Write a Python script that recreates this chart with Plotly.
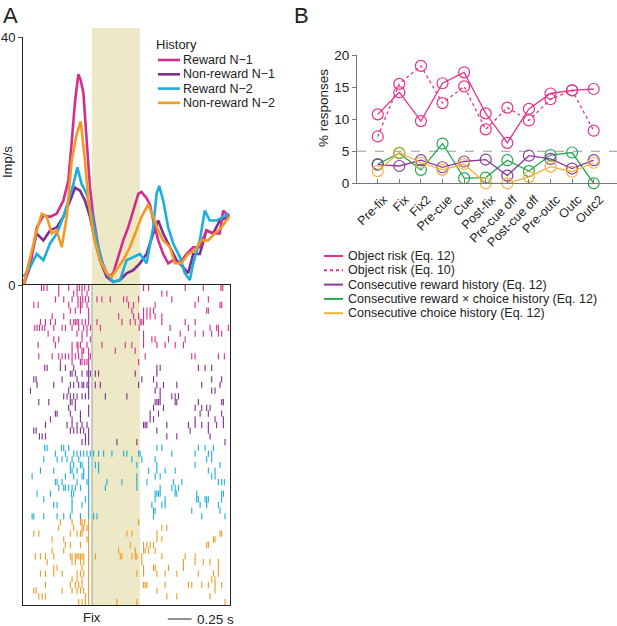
import plotly.graph_objects as go

W, H = 617, 626
FONT = 'Arial, Liberation Sans, sans-serif'

# ---------------- panel A: population activity (imp/s) around fixation ----------------
hist_names = ['Reward N\u22121', 'Non-reward N\u22121', 'Reward N\u22122', 'Non-reward N\u22122']
hist_colors = ['#D42E8D', '#7D2E8F', '#1CAEDC', '#F39A22']

t_rew1 = [-0.715, -0.646, -0.576, -0.507, -0.438, -0.368, -0.299, -0.247, -0.212, -0.177,
          -0.142, -0.118, -0.090, -0.056, -0.021, 0.014, 0.066, 0.118, 0.170, 0.222,
          0.274, 0.326, 0.378, 0.431, 0.483, 0.517, 0.569, 0.604, 0.639, 0.691,
          0.743, 0.795, 0.847, 0.917, 0.986, 1.056, 1.125, 1.194, 1.264, 1.333, 1.368, 1.431]
rate_rew1 = [0, 2.9, 9.3, 11.2, 11, 11.5, 13.6, 16.8, 23, 29.6,
             34, 33, 31, 24, 15.7, 11, 6.1, 2.9, 1.3, 1.9,
             4.5, 7.2, 9.3, 12, 14.7, 15, 14, 13, 10.4, 7.2,
             5, 3.5, 4, 3.5, 5, 6.1, 6.1, 8.8, 8.3, 8.3, 12, 11]

t_nonrew1 = [-0.715, -0.646, -0.576, -0.507, -0.438, -0.368, -0.299, -0.229, -0.177, -0.125,
             -0.073, -0.021, 0.031, 0.083, 0.153, 0.222, 0.292, 0.361, 0.431, 0.5,
             0.569, 0.639, 0.691, 0.743, 0.813, 0.882, 0.951, 1.003, 1.056, 1.125,
             1.194, 1.264, 1.333, 1.431]
rate_nonrew1 = [0, 4, 8.3, 7.2, 8.8, 9.3, 11, 13.6, 15.7, 15.2,
                13.6, 11, 7.2, 4, 1.3, 0.5, 0.8, 1.9, 2.4, 3.5,
                5, 8.3, 10.4, 8.3, 6.1, 4, 2.9, 1.9, 5, 5,
                8.8, 8.3, 10.4, 11]

t_rew2 = [-0.715, -0.646, -0.576, -0.507, -0.438, -0.368, -0.299, -0.247, -0.194, -0.153,
          -0.108, -0.056, -0.003, 0.049, 0.101, 0.153, 0.222, 0.292, 0.361, 0.431,
          0.5, 0.569, 0.639, 0.674, 0.701, 0.743, 0.795, 0.847, 0.917, 0.969,
          1.021, 1.056, 1.125, 1.177, 1.229, 1.299, 1.368, 1.431]
rate_rew2 = [1.3, 2.9, 5, 4, 6.7, 8.3, 11, 13.6, 16.3, 19,
             16.3, 14.7, 11.5, 7.2, 4, 1.9, 0.5, 0.8, 4, 4.5,
             5, 3.5, 9.3, 14.7, 16, 13.6, 9.3, 6.7, 4.5, 1.9,
             0.8, 3.5, 7.2, 12, 10.4, 10.4, 11, 11.5]

t_nonrew2 = [-0.715, -0.646, -0.576, -0.524, -0.472, -0.420, -0.368, -0.316, -0.264, -0.212,
             -0.160, -0.118, -0.073, -0.038, 0.014, 0.083, 0.153, 0.205, 0.257, 0.326,
             0.396, 0.465, 0.517, 0.587, 0.639, 0.691, 0.743, 0.813, 0.865, 0.934,
             1.003, 1.073, 1.142, 1.212, 1.281, 1.351, 1.431]
rate_nonrew2 = [0, 4.5, 8.8, 11.5, 11, 8.3, 8.8, 6.1, 11, 20,
                24.3, 26.4, 20, 13.6, 8.3, 4, 1.9, 1.3, 2.4, 4,
                6.1, 8.8, 11, 13, 11, 8.8, 7.2, 6.1, 3.5, 3.5,
                5, 5.6, 7.2, 7.2, 8.3, 9.3, 11]

# raster: spike times (ms from fixation), one list per trial
spikes_rew1 = [
    [-527, -503, -468, -347, -243, -156, -132, -104, -76, -35, 538, 590, 972, 1162, 1346, 1364],
    [-347, -191, -156, -104, -52, 729, 781],
    [-382, -295, -208, -146, -121, -97, -69, -35, 52, 104, 191, 330, 364, 486, 833, 1110, 1214],
    [-607, -562, -243, -146, -121, -104, -52, 382, 434, 659, 1076, 1336, 1353],
    [-226, -174, -121, -35, 416, 538, 573, 607, 642, 1197, 1214],
    [-416, -295, -35, 278, 434, 486, 538, 573, 607, 659, 729],
    [-538, -486, -434, -382, -226, -191, -174, -156, -139, -104, -69, -35, 52, 312, 399, 451,
     503, 520, 538, 729, 972, 1076],
    [-597, -573, -548, -520, -493, -399, -312, -278, -208, -139, -87, -52, -17, 87, 493, 815,
     1006, 1232, 1301, 1319, 1423],
    [-458, -156, -104, -52, 538, 920, 1076, 1162, 1249, 1319, 1353],
    [-399, -347, -104, -17, 538, 625, 659, 798, 972],
    [-562, -382, -208, -156, -146, -121, -52, 104, 347, 416, 538, 677, 763, 868, 954],
    [-208, -146, -104, -87, -35, 243, 451],
    [-555, -416, -347, -312, -278, -243, -208, -174, -139, -104, -35, -17, 555, 1041, 1076, 1319, 1381],
    [-330, -208, -121, -104, -76, -52, -35, 486],
]
spikes_nonrew1 = [
    [-493, -468, -330, -278, -191, -35, 677, 711, 1110, 1180, 1249],
    [-226, -208, -174, -104, -52, -35, -17, 35, 69, 451, 677],
    [-607, -583, -312, -156, -35, 520, 642, 1249, 1353],
    [-573, -399, -226, -191, -139, -104, -87, -52, -35, 35, 87, 486, 677, 746, 885, 1145, 1336],
    [-642, -243, -35, 659, 711, 1249, 1284],
    [-295, -260, -226, -191, -156, -104, -69, -35, 139, 364, 711, 833, 868, 902],
    [-555, -451, -226, -208, -174, 659, 677, 694, 711, 868, 885, 1110, 1353, 1371],
    [-243, -174, -35, 642, 746, 1076, 1145, 1197, 1232],
    [-382, -364, -226, -121, -35, 607, 694, 1128, 1214, 1353],
    [-434, -208, -121, 607, 642, 1076, 1284, 1371],
    [-486, -260, -208, -156, -104, -52, 538, 555, 573, 781, 1006, 1076, 1145, 1214, 1301, 1371],
    [-607, -583, -226, -191, -156, -121, -87, -35, 677, 1024, 1214],
    [-548, -520, -486, -69, -35, 781, 885, 1232],
    [-104, -69, -35, 260, 468, 1388],
]
spikes_rew2 = [
    [-493, -468, -319, -295, -243, 677, 729, 1110, 1180, 1267],
    [-382, -278, -191, -156, -121, -87, -52, -17, 17, 69, 121, 208, 330, 364, 486, 503, 833,
     1076, 1214, 1249],
    [-503, -364, -312, -260, -208, -139, -35, 416, 520, 659, 1197, 1249],
    [-226, -191, -121, -104, -35, 35, 69, 468, 677, 1076, 1336],
    [-538, -399, -226, -208, -156, -87, -35, 69, 590, 677, 763, 868, 1214, 1284],
    [-625, -278, -191, -104, -87, -35, 468, 659, 711, 1249, 1284],
    [-382, -364, -312, -156, -52, -35, 156, 312, 468, 573, 850, 937, 1319, 1353, 1381],
    [-347, -295, -278, -243, -208, -174, -121, -35, 139, 468, 711, 833, 868, 902],
    [-573, -434, -215, -191, -35, 659, 677, 694, 711, 868, 885, 1093, 1353, 1371],
    [-503, -208, -69, -35, 659, 763, 1093, 1110, 1180, 1197, 1214, 1353],
    [-399, -364, -208, -104, -35, 625, 729, 763, 1128, 1197, 1319],
    [-208, -35, 642, 659, 1041, 1336],
    [-625, -607, -503, -364, -295, -226, -121, -35, 17, 52, 642, 1145, 1388],
]
spikes_nonrew2 = [
    [-330, -208, -121, -104, -76, -35, 486],
    [-347, -191, -104, -87, -52, -35, 729, 781],
    [-607, -555, -226, -156, -121, -104, -35, 364, 416, 677, 1336, 1353],
    [-416, -295, -52, -35, 677, 729, 1267, 1284],
    [-278, -226, -121, -35, 399, 538, 573, 607, 642, 1197, 1214],
    [-416, -295, -35, 278, 451, 538, 555, 590, 659],
    [-590, -538, -486, -399, -226, -208, -174, -156, -139, -121, -104, -87, -35, 35, 295, 312,
     416, 451, 468, 520, 729, 972, 1076],
    [-468, -208, -174, -121, -87, -35, 520, 954, 1076, 1162, 1232, 1319],
    [-399, -364, -104, -35, 538, 642, 659, 798, 954, 1319],
    [-538, -486, -399, -312, -156, -121, -87, -35, 468, 538, 677, 763, 885, 1110, 1267, 1319],
    [-208, -156, -104, -35, 1249, 1284],
    [-486, -226, -174, -139, -104, -35, 538, 555, 573, 763, 1006, 1041, 1145, 1214, 1284, 1353],
    [-607, -583, -312, -208, -156, -121, -87, -35, 677, 1284],
    [-555, -520, -486, -69, -35, 781, 885, 1232],
    [-139, -104, -69, -35, 260, 468, 1388],
]

# ---------------- panel B: % responses per task epoch ----------------
epochs = ['Pre-fix', 'Fix', 'Fix2', 'Pre-cue', 'Cue', 'Post-fix', 'Pre-cue off',
          'Post-cue off', 'Pre-outc', 'Outc', 'Outc2']
risk_eq12 = [10.75, 14.2, 9.7, 15.6, 17.3, 10.9, 6.3, 11.6, 14.0, 14.5, 14.7]
risk_eq10 = [7.3, 15.5, 18.3, 12.5, 15.1, 8.4, 11.8, 9.8, 13.1, 14.5, 8.2]
reward_hist = [2.9, 2.7, 3.6, 2.5, 3.4, 3.7, 1.2, 4.3, 3.8, 2.3, 3.6]
rew_choice_hist = [3.0, 4.7, 2.1, 6.2, 0.8, 0.9, 3.6, 1.9, 4.4, 4.8, 0]
choice_hist = [1.9, 4.8, 3.2, 2.1, 3.0, 0, 0, 1.0, 2.6, 1.8, 3.2]

b_names = ['Object risk (Eq. 12)', 'Object risk (Eq. 10)', 'Consecutive reward history (Eq. 12)',
           'Consecutive reward \u00d7 choice history (Eq. 12)', 'Consecutive choice history (Eq. 12)']
b_values = [risk_eq12, risk_eq10, reward_hist, rew_choice_hist, choice_hist]
b_colors = ['#E4328C', '#E4328C', '#8B3A9C', '#25A94F', '#F2B33D']
b_dash = ['solid', 'dot', 'solid', 'solid', 'solid']


def px(x):
    return x / W


def py(y):
    return 1 - y / H


fig = go.Figure()

# PSTH lines
psth_t = [t_rew1, t_nonrew1, t_rew2, t_nonrew2]
psth_rate = [rate_rew1, rate_nonrew1, rate_rew2, rate_nonrew2]
for i in [1, 0, 2, 3]:
    fig.add_trace(go.Scatter(x=psth_t[i], y=psth_rate[i], mode='lines', name=hist_names[i],
                             line=dict(color=hist_colors[i], width=2.6),
                             cliponaxis=False, xaxis='x', yaxis='y'))

# raster
row = 0
for g, trials in enumerate([spikes_rew1, spikes_nonrew1, spikes_rew2, spikes_nonrew2]):
    xs, ys = [], []
    for trial in trials:
        xs += [s / 1000 for s in trial]
        ys += [row] * len(trial)
        row += 1
    fig.add_trace(go.Scatter(x=xs, y=ys, mode='markers',
                             marker=dict(symbol='line-ns', size=4.5,
                                         line=dict(width=1.1, color=hist_colors[g])),
                             xaxis='x2', yaxis='y2'))
n_rows = row
fig.add_trace(go.Scatter(x=[0] * n_rows, y=list(range(n_rows)), mode='markers',
                         marker=dict(symbol='line-ns', size=4, line=dict(width=1, color='#9a9a9a')),
                         xaxis='x2', yaxis='y2'))

# panel B lines
for i in [3, 2, 4, 1, 0]:
    fig.add_trace(go.Scatter(x=list(range(len(epochs))), y=b_values[i], mode='lines+markers',
                             name=b_names[i], cliponaxis=False,
                             line=dict(color=b_colors[i], width=1.3, dash=b_dash[i]),
                             marker=dict(symbol='circle-open', size=11,
                                         line=dict(width=1.2, color=b_colors[i])),
                             xaxis='x3', yaxis='y3'))

shapes = [
    dict(type='rect', xref='x', x0=0, x1=0.5, yref='paper', y0=py(605), y1=py(28),
         fillcolor='#EDE8C5', line=dict(width=0), layer='below'),
    dict(type='line', xref='x3 domain', x0=0, x1=1, yref='y3', y0=5, y1=5,
         line=dict(color='#999999', width=1, dash='dash'), layer='below'),
    dict(type='line', xref='x2', x0=0.79, x1=1.04, yref='paper', y0=py(619), y1=py(619),
         line=dict(color='#222222', width=1)),
]
annotations = [
    dict(text='A', x=px(1), y=py(1), xanchor='left', yanchor='top', font=dict(size=22)),
    dict(text='B', x=px(292), y=py(1), xanchor='left', yanchor='top', font=dict(size=22)),
    dict(text='Imp/s', x=px(8), y=py(162), textangle=-90, font=dict(size=13)),
    dict(text='Fix', xref='x2', x=0, y=py(617), font=dict(size=13)),
    dict(text='0.25 s', xref='x2', x=1.07, xanchor='left', y=py(619), font=dict(size=13.5)),
    dict(text='% responses', x=px(323), y=py(108), textangle=-90, font=dict(size=13.5)),
    dict(text='History', x=px(154), y=py(45), xanchor='left', font=dict(size=13)),
]

# legend A
for i, name in enumerate(hist_names):
    yc = 60 + i * 14.3
    shapes.append(dict(type='line', x0=px(158), x1=px(180), y0=py(yc), y1=py(yc),
                       xref='paper', yref='paper', line=dict(color=hist_colors[i], width=2.6)))
    annotations.append(dict(text=name, x=px(181), y=py(yc), xanchor='left', font=dict(size=12.5)))

# legend B
for i, name in enumerate(b_names):
    yc = 256 + i * 14.3
    shapes.append(dict(type='line', x0=px(324), x1=px(343), y0=py(yc), y1=py(yc),
                       xref='paper', yref='paper',
                       line=dict(color=b_colors[i], width=2, dash=b_dash[i])))
    annotations.append(dict(text=name, x=px(346), y=py(yc), xanchor='left', font=dict(size=12.5)))

for a in annotations:
    a.setdefault('xref', 'paper')
    a.setdefault('yref', 'paper')
    a.setdefault('xanchor', 'center')
    a.setdefault('yanchor', 'middle')
    a['showarrow'] = False

fig.update_layout(
    width=W, height=H,
    margin=dict(l=0, r=0, t=0, b=0),
    paper_bgcolor='white', plot_bgcolor='rgba(0,0,0,0)',
    font=dict(family=FONT, color='#222222'),
    showlegend=False,
    shapes=shapes, annotations=annotations,
    xaxis=dict(domain=[px(23), px(230)], range=[-0.72, 1.44], visible=False),
    yaxis=dict(domain=[py(285), py(37)], range=[0, 40], tickvals=[0, 40],
               ticks='outside', ticklen=4, showline=True, linecolor='#222222',
               showgrid=False, zeroline=False, tickfont=dict(size=13), automargin=False),
    xaxis2=dict(domain=[px(23), px(230)], range=[-0.72, 1.44], anchor='y2',
                showline=True, mirror=True, linecolor='#222222', showticklabels=False,
                ticks='', showgrid=False, zeroline=False, automargin=False),
    yaxis2=dict(domain=[py(605), py(285)], range=[n_rows - 0.5, -0.5], anchor='x2',
                showline=True, mirror=True, linecolor='#222222', showticklabels=False,
                ticks='', showgrid=False, zeroline=False, automargin=False),
    xaxis3=dict(domain=[px(357), 1], range=[-0.96, 11.08], anchor='y3',
                tickvals=list(range(len(epochs))), ticktext=epochs, tickangle=-45,
                ticks='inside', ticklen=4, tickcolor='#777777', showline=True,
                linecolor='#777777', showgrid=False, zeroline=False,
                ticklabelshift=6, ticklabelstandoff=3,
                tickfont=dict(size=12.5), automargin=False),
    yaxis3=dict(domain=[py(183.3), py(55)], range=[0, 20], anchor='x3',
                tickvals=[0, 5, 10, 15, 20], ticks='outside', ticklen=4,
                tickcolor='#777777', showline=True, linecolor='#777777',
                showgrid=False, zeroline=False, tickfont=dict(size=13.5), automargin=False),
)

# drop the default 8px page margin so the figure sits at the window origin
fig.write_html('out.html', config={'displayModeBar': False},
               post_script="document.body.style.margin='0px';")
